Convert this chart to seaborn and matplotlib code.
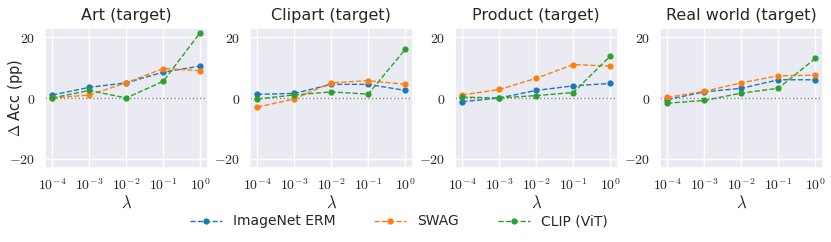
import numpy as np
import pandas as pd
import seaborn as sns
import matplotlib
matplotlib.use("Agg")
import matplotlib.pyplot as plt

lambdas = [1e-4, 1e-3, 1e-2, 1e-1, 1e0]
domains = ["Art", "Clipart", "Product", "Real world"]
methods = ["ImageNet ERM", "SWAG", "CLIP (ViT)"]

art_erm = [1.0, 3.5, 5.0, 8.5, 10.5]
art_swag = [0.0, 1.0, 5.0, 9.7, 9.0]
art_clip = [0.0, 2.5, 0.0, 5.5, 21.5]

clipart_erm = [1.2, 1.5, 4.5, 4.5, 2.5]
clipart_swag = [-3.0, -0.3, 5.0, 5.7, 4.5]
clipart_clip = [-0.3, 1.0, 2.0, 1.3, 16.0]

product_erm = [-1.2, 0.0, 2.5, 4.0, 4.8]
product_swag = [1.0, 2.8, 6.5, 11.0, 10.5]
product_clip = [0.3, 0.0, 0.8, 1.8, 13.8]

real_erm = [-0.5, 2.0, 3.2, 6.0, 6.0]
real_swag = [0.2, 2.2, 5.0, 7.3, 7.5]
real_clip = [-1.7, -0.8, 1.6, 3.2, 13.0]

values = {
    "Art": [art_erm, art_swag, art_clip],
    "Clipart": [clipart_erm, clipart_swag, clipart_clip],
    "Product": [product_erm, product_swag, product_clip],
    "Real world": [real_erm, real_swag, real_clip],
}

rows = []
for d in domains:
    for m, vals in zip(methods, values[d]):
        for lam, v in zip(lambdas, vals):
            rows.append({"domain": d, "method": m, "lambda": lam, "acc": v})
df = pd.DataFrame(rows)

sns.set_theme(style="darkgrid")
plt.rcParams["font.family"] = ["DejaVu Sans"]
plt.rcParams["mathtext.fontset"] = "cm"

fig, axes = plt.subplots(1, 4, figsize=(8.31, 2.42), dpi=100)
colors = ["#1f77b4", "#ff7f0e", "#2ca02c"]

for i, (ax, d) in enumerate(zip(axes, domains)):
    sub = df[df["domain"] == d]
    for m, c in zip(methods, colors):
        s = sub[sub["method"] == m]
        sns.lineplot(data=s, x="lambda", y="acc", ax=ax, color=c, marker="o",
                     markersize=4.5, markeredgewidth=0, linestyle="--",
                     linewidth=1, label=m, legend=False)
    ax.axhline(0, color="gray", linestyle=":", linewidth=1, zorder=1)
    ax.set_xscale("log")
    ax.set_xticks(lambdas)
    ax.set_xticklabels([r"$10^{-4}$", r"$10^{-3}$", r"$10^{-2}$", r"$10^{-1}$", r"$10^{0}$"],
                       fontsize=10)
    ax.minorticks_off()
    ax.set_ylim(-23, 23)
    ax.set_yticks([-20, 0, 20])
    ax.set_yticklabels([r"$-20$", r"$0$", r"$20$"], fontsize=10)
    ax.set_title(f"{d} (target)", fontsize=11.5)
    ax.set_xlabel(r"$\lambda$", fontsize=12, labelpad=0)
    if i == 0:
        ax.set_ylabel(r"$\Delta$ Acc (pp)", fontsize=10.5)
        ax.yaxis.set_label_coords(-0.12, 0.5)
    else:
        ax.set_ylabel("")
    ax.tick_params(pad=1)

handles, labels = axes[0].get_legend_handles_labels()
fig.legend(handles, labels, loc="center", ncol=3, frameon=False,
           fontsize=10, bbox_to_anchor=(0.48, 0.085), columnspacing=2.8,
           handlelength=2.3)
fig.subplots_adjust(left=0.054, right=0.99, top=0.884, bottom=0.306, wspace=0.26)
fig.savefig("out.png", dpi=100)
